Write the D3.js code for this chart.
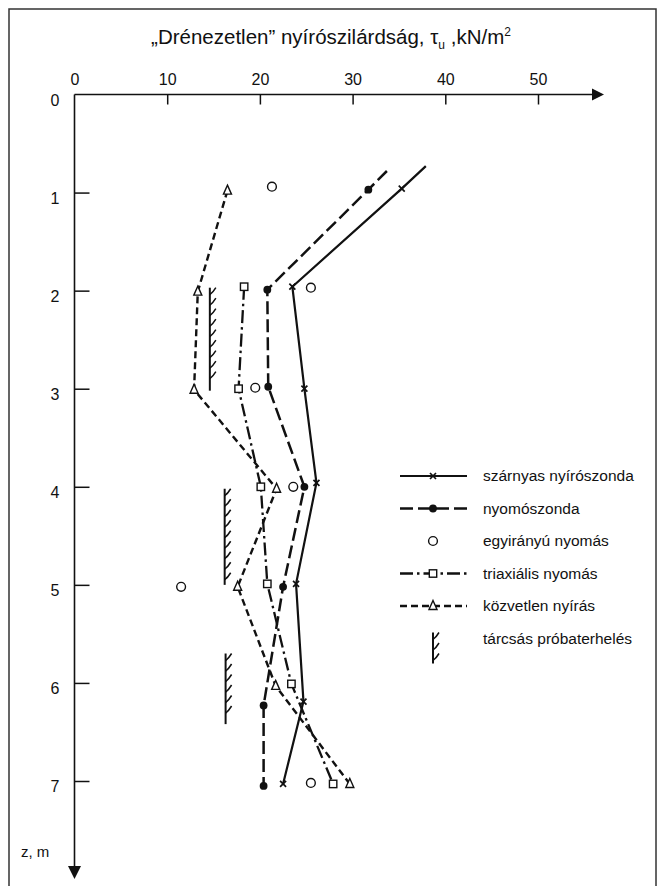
<!DOCTYPE html>
<html>
<head>
<meta charset="utf-8">
<script src="https://cdn.jsdelivr.net/npm/d3@7"></script>
<style>
  html, body { margin: 0; padding: 0; background: #fff; }
  svg { display: block; font-family: "Liberation Sans", Arial, Helvetica, sans-serif; }
</style>
</head>
<body>
<svg id="chart" width="663" height="886"></svg>
<script>
// Undrained shear strength vs. depth, several test methods

// depth ticks (m) and strength ticks (kN/m2)
const depthTicks = [0, 1, 2, 3, 4, 5, 6, 7];
const tauTicks = [0, 10, 20, 30, 40, 50];

// szárnyas nyírószonda (vane)
const vaneDepth = [0.96, 1.96, 3.00, 3.96, 4.99, 6.19, 7.03];
const vaneTau   = [35.3, 23.5, 24.8, 26.1, 23.9, 24.7, 22.5];
const vaneTopEnd = [0.73, 37.9];   // [depth, tau] where the trend line starts above the first reading

// nyomószonda (penetrometer)
const coneDepth = [0.97, 1.99, 2.98, 4.00, 5.02, 6.23, 7.05];
const coneTau   = [31.7, 20.8, 20.9, 24.8, 22.5, 20.4, 20.4];
const coneTopEnd = [0.78, 33.7];

// egyirányú nyomás (unconfined compression)
const unconfDepth = [0.94, 1.97, 2.99, 4.00, 5.02, 7.02];
const unconfTau   = [21.3, 25.5, 19.5, 23.6, 11.5, 25.5];

// triaxiális nyomás
const triaxDepth = [1.96, 3.00, 4.00, 4.99, 6.01, 7.03];
const triaxTau   = [18.3, 17.7, 20.1, 20.8, 23.4, 27.9];

// közvetlen nyírás (direct shear)
const directDepth = [0.98, 2.01, 3.01, 4.02, 5.02, 6.03, 7.03];
const directTau   = [16.5, 13.3, 12.9, 21.8, 17.6, 21.7, 29.7];

// tárcsás próbaterhelés (plate load test): tau, depth from, depth to
const plateTau  = [14.6, 16.2, 16.3];
const plateFrom = [1.97, 4.02, 5.70];
const plateTo   = [3.02, 5.00, 6.42];

const legendLabels = [
  "szárnyas nyírószonda",
  "nyomószonda",
  "egyirányú nyomás",
  "triaxiális nyomás",
  "közvetlen nyírás",
  "tárcsás próbaterhelés"
];

const svg = d3.select("#chart");
const ink = "#111";

const x = d3.scaleLinear().domain([0, 50]).range([74.5, 538]);
const y = d3.scaleLinear().domain([0, 7]).range([94.5, 781]);

// frame
svg.append("rect")
  .attr("x", 9).attr("y", 9).attr("width", 647).attr("height", 900)
  .attr("fill", "none").attr("stroke", "#333").attr("stroke-width", 1.5);

// title
const title = svg.append("text")
  .attr("x", 331).attr("y", 44)
  .attr("text-anchor", "middle")
  .attr("font-size", 20.5)
  .attr("fill", ink);
title.append("tspan").text("„Drénezetlen” nyírószilárdság, τ");
title.append("tspan").attr("font-size", 12).attr("dy", 5).text("u");
title.append("tspan").attr("dy", -5).text(" ,kN/m");
title.append("tspan").attr("font-size", 12).attr("dy", -8).text("2");

// top (strength) axis
const xAxis = d3.axisTop(x)
  .tickValues(tauTicks)
  .tickSizeInner(-10)
  .tickSizeOuter(0)
  .tickPadding(10)
  .tickFormat(d3.format("d"));
const gx = svg.append("g").attr("transform", `translate(0,${y(0)})`).call(xAxis);
gx.select(".domain").remove();
gx.selectAll(".tick line").attr("stroke", ink).attr("stroke-width", 1.5)
  .filter(d => d === 0).remove();
gx.selectAll(".tick text").attr("font-size", 16).attr("fill", ink)
  .attr("font-family", "'Liberation Sans', Arial, sans-serif");

svg.append("line")
  .attr("x1", x(0)).attr("x2", 592).attr("y1", y(0)).attr("y2", y(0))
  .attr("stroke", ink).attr("stroke-width", 1.6);
svg.append("path")
  .attr("d", `M592,${y(0) - 6}L604,${y(0)}L592,${y(0) + 6}Z`)
  .attr("fill", ink);

// left (depth) axis
const yAxis = d3.axisLeft(y)
  .tickValues(depthTicks)
  .tickSizeInner(-15)
  .tickSizeOuter(0)
  .tickPadding(15)
  .tickFormat(d3.format("d"));
const gy = svg.append("g").attr("transform", `translate(${x(0)},0)`).call(yAxis);
gy.select(".domain").remove();
gy.selectAll(".tick line").attr("stroke", ink).attr("stroke-width", 1.5)
  .filter(d => d === 0).remove();
gy.selectAll(".tick text").attr("font-size", 16).attr("fill", ink)
  .attr("dy", "0.66em")
  .attr("font-family", "'Liberation Sans', Arial, sans-serif");

svg.append("line")
  .attr("x1", x(0)).attr("x2", x(0)).attr("y1", y(0)).attr("y2", 866)
  .attr("stroke", ink).attr("stroke-width", 1.6);
svg.append("path")
  .attr("d", `M${x(0) - 6.5},866L${x(0)},879L${x(0) + 6.5},866Z`)
  .attr("fill", ink);

svg.append("text")
  .attr("x", 21).attr("y", 857)
  .attr("font-size", 15).attr("fill", ink)
  .text("z, m");

// ---- series ----
const line = d3.line().x(d => x(d[1])).y(d => y(d[0]));
const pts = (ds, ts) => ds.map((d, i) => [d, ts[i]]);

const styles = {
  vane:   { dash: null,            width: 2.2 },
  cone:   { dash: "13,5",          width: 2.5 },
  triax:  { dash: "13,4,2.5,4",    width: 2.3 },
  direct: { dash: "7,4",           width: 2.4 }
};

function drawPath(data, st) {
  svg.append("path")
    .datum(data)
    .attr("d", line)
    .attr("fill", "none")
    .attr("stroke", ink)
    .attr("stroke-width", st.width)
    .attr("stroke-dasharray", st.dash)
    .attr("stroke-linejoin", "round");
}

drawPath([vaneTopEnd].concat(pts(vaneDepth, vaneTau)), styles.vane);
drawPath([coneTopEnd].concat(pts(coneDepth, coneTau)), styles.cone);
drawPath(pts(triaxDepth, triaxTau), styles.triax);
drawPath(pts(directDepth, directTau), styles.direct);

// markers
function cross(g, cx, cy, s) {
  g.append("path")
    .attr("d", `M${cx - s},${cy - s}L${cx + s},${cy + s}M${cx - s},${cy + s}L${cx + s},${cy - s}`)
    .attr("stroke", ink).attr("stroke-width", 1.7).attr("fill", "none");
}
function dot(g, cx, cy) {
  g.append("circle").attr("cx", cx).attr("cy", cy).attr("r", 3.9).attr("fill", ink);
}
function ring(g, cx, cy) {
  g.append("circle").attr("cx", cx).attr("cy", cy).attr("r", 4.4)
    .attr("fill", "#fff").attr("stroke", ink).attr("stroke-width", 1.4);
}
function square(g, cx, cy) {
  g.append("rect").attr("x", cx - 3.7).attr("y", cy - 3.7).attr("width", 7.4).attr("height", 7.4)
    .attr("fill", "#fff").attr("stroke", ink).attr("stroke-width", 1.4);
}
function tri(g, cx, cy) {
  g.append("path")
    .attr("d", `M${cx},${cy - 5.5}L${cx + 4},${cy + 3.5}L${cx - 4},${cy + 3.5}Z`)
    .attr("fill", "#fff").attr("stroke", ink).attr("stroke-width", 1.4);
}
function hatch(g, hx, y1, y2) {
  g.append("line").attr("x1", hx).attr("x2", hx).attr("y1", y1).attr("y2", y2)
    .attr("stroke", ink).attr("stroke-width", 2);
  for (let yy = y1 + 7; yy <= y2 - 2; yy += 10.5) {
    g.append("path")
      .attr("d", `M${hx},${yy}Q${hx + 3},${yy - 2} ${hx + 6},${yy - 7}`)
      .attr("stroke", ink).attr("stroke-width", 1.5).attr("fill", "none");
  }
}

const mk = svg.append("g");
vaneDepth.forEach((d, i) => cross(mk, x(vaneTau[i]), y(d), 3));
coneDepth.forEach((d, i) => dot(mk, x(coneTau[i]), y(d)));
unconfDepth.forEach((d, i) => ring(mk, x(unconfTau[i]), y(d)));
triaxDepth.forEach((d, i) => square(mk, x(triaxTau[i]), y(d)));
directDepth.forEach((d, i) => tri(mk, x(directTau[i]), y(d)));
plateTau.forEach((t, i) => hatch(mk, x(t), y(plateFrom[i]), y(plateTo[i])));

// ---- legend ----
const lg = svg.append("g");
const lgX1 = 400, lgX2 = 467, lgMid = 433, lgText = 483;
const rowY = i => 476 + i * 32.5;

function legendLine(i, st) {
  lg.append("line")
    .attr("x1", lgX1).attr("x2", lgX2).attr("y1", rowY(i)).attr("y2", rowY(i))
    .attr("stroke", ink).attr("stroke-width", st.width)
    .attr("stroke-dasharray", st.dash);
}
legendLine(0, styles.vane);   cross(lg, lgMid, rowY(0), 3);
legendLine(1, styles.cone);   dot(lg, lgMid, rowY(1));
ring(lg, lgMid, rowY(2));
legendLine(3, styles.triax);  square(lg, lgMid, rowY(3));
legendLine(4, styles.direct); tri(lg, lgMid, rowY(4));
hatch(lg, lgMid, rowY(5) - 6, rowY(5) + 25);

lg.selectAll("text.lbl")
  .data(legendLabels)
  .join("text")
  .attr("class", "lbl")
  .attr("x", lgText)
  .attr("y", (d, i) => rowY(i) + 5)
  .attr("font-size", 15.5)
  .attr("fill", ink)
  .text(d => d);
</script>
</body>
</html>
